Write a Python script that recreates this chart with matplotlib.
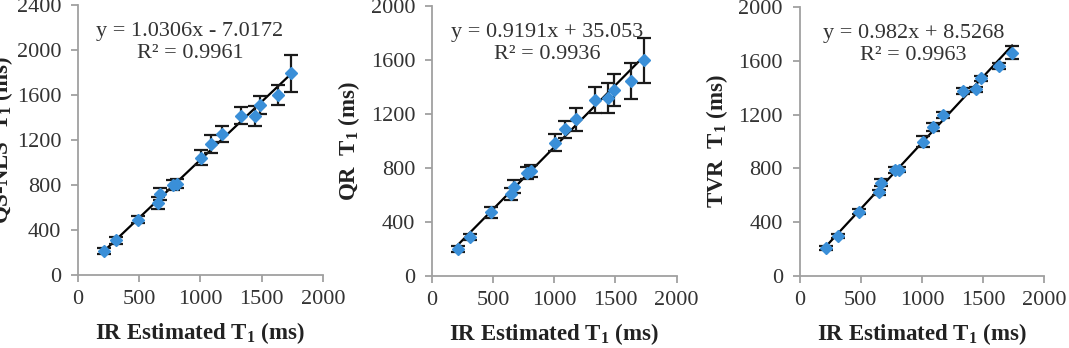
import numpy as np
import matplotlib
matplotlib.use('Agg')
import matplotlib.pyplot as plt

plt.rcParams['font.family'] = 'Liberation Serif'
plt.rcParams['mathtext.fontset'] = 'custom'
plt.rcParams['mathtext.rm'] = 'Liberation Serif'
plt.rcParams['mathtext.bf'] = 'Liberation Serif:bold'

# IR estimated T1 (ms), shared x for all panels
ir_t1 = [212, 311, 487, 650, 669, 778, 812, 1008, 1090, 1174, 1334, 1442, 1484, 1630, 1736]

# panel 1: QS-NLS
qs_t1 = [213, 308, 492, 640, 718, 802, 812, 1043, 1162, 1250, 1416, 1412, 1510, 1598, 1793]
qs_err = [25, 30, 35, 50, 55, 45, 40, 70, 80, 70, 75, 85, 80, 90, 165]
# panel 2: QR
qr_t1 = [200, 288, 472, 610, 662, 765, 775, 988, 1086, 1160, 1304, 1318, 1378, 1444, 1597]
qr_err = [20, 25, 40, 45, 50, 45, 45, 60, 65, 85, 95, 110, 120, 130, 165]
# panel 3: TVR
tvr_t1 = [206, 300, 478, 622, 694, 788, 790, 999, 1110, 1197, 1375, 1388, 1470, 1561, 1660]
tvr_err = [15, 15, 20, 20, 25, 20, 20, 40, 30, 25, 20, 20, 20, 20, 50]

slopes = [1.0306, 0.9191, 0.982]
intercepts = [-7.0172, 35.053, 8.5268]
eq_text = ['y = 1.0306x - 7.0172\nR² = 0.9961',
           'y = 0.9191x + 35.053\nR² = 0.9936',
           'y = 0.982x + 8.5268\nR² = 0.9963']
ylabels = ['QS-NLS  T$_\\mathbf{1}$ (ms)', 'QR  T$_\\mathbf{1}$ (ms)', 'TVR  T$_\\mathbf{1}$ (ms)']
ymax = [2400, 2000, 2000]
ys = [qs_t1, qr_t1, tvr_t1]
errs = [qs_err, qr_err, tvr_err]

fig = plt.figure(figsize=(10.69, 3.48), dpi=100)
boxes = [[0.073, 0.210, 0.229, 0.776],
         [0.404, 0.207, 0.229, 0.776],
         [0.748, 0.207, 0.229, 0.773]]
eq_x = [0.457, 0.47, 0.465]
lpads = [1, 6, 6]

for i in range(3):
    ax = fig.add_axes(boxes[i])
    x = np.array(ir_t1)
    ax.errorbar(x, ys[i], yerr=errs[i], fmt='D', color='#3a8fd8', ms=6,
                ecolor='#1a1a1a', elinewidth=1.6, capsize=5, capthick=1.6, zorder=3)
    xl = np.array([min(ir_t1), max(ir_t1)])
    ax.plot(xl, slopes[i]*xl + intercepts[i], color='black', lw=1.6, zorder=2)
    ax.set_xlim(0, 2000)
    ax.set_ylim(0, ymax[i])
    ax.set_xticks([0, 500, 1000, 1500, 2000])
    ax.set_yticks(np.arange(0, ymax[i]+1, 400))
    for s in ['top', 'right']:
        ax.spines[s].set_visible(False)
    for s in ['left', 'bottom']:
        ax.spines[s].set_color('#a0a0a0')
        ax.spines[s].set_linewidth(1.3)
    ax.tick_params(colors='#a0a0a0', labelcolor='#333333', labelsize=16,
                   length=5, width=1.3, direction='out')
    ax.tick_params(axis='y', pad=7)
    ax.tick_params(axis='x', pad=6)
    ax.set_xlabel('IR Estimated T$_\\mathbf{1}$ (ms)', fontsize=16.5,
                  fontweight='bold', color='#222222', labelpad=8)
    ax.set_ylabel(ylabels[i], fontsize=16.5, fontweight='bold', color='#222222',
                  labelpad=lpads[i])
    ax.text(eq_x[i], 0.86, eq_text[i], transform=ax.transAxes, ha='center',
            va='center', fontsize=16, color='#333333', linespacing=1.2)

fig.savefig('out.png', dpi=100)
